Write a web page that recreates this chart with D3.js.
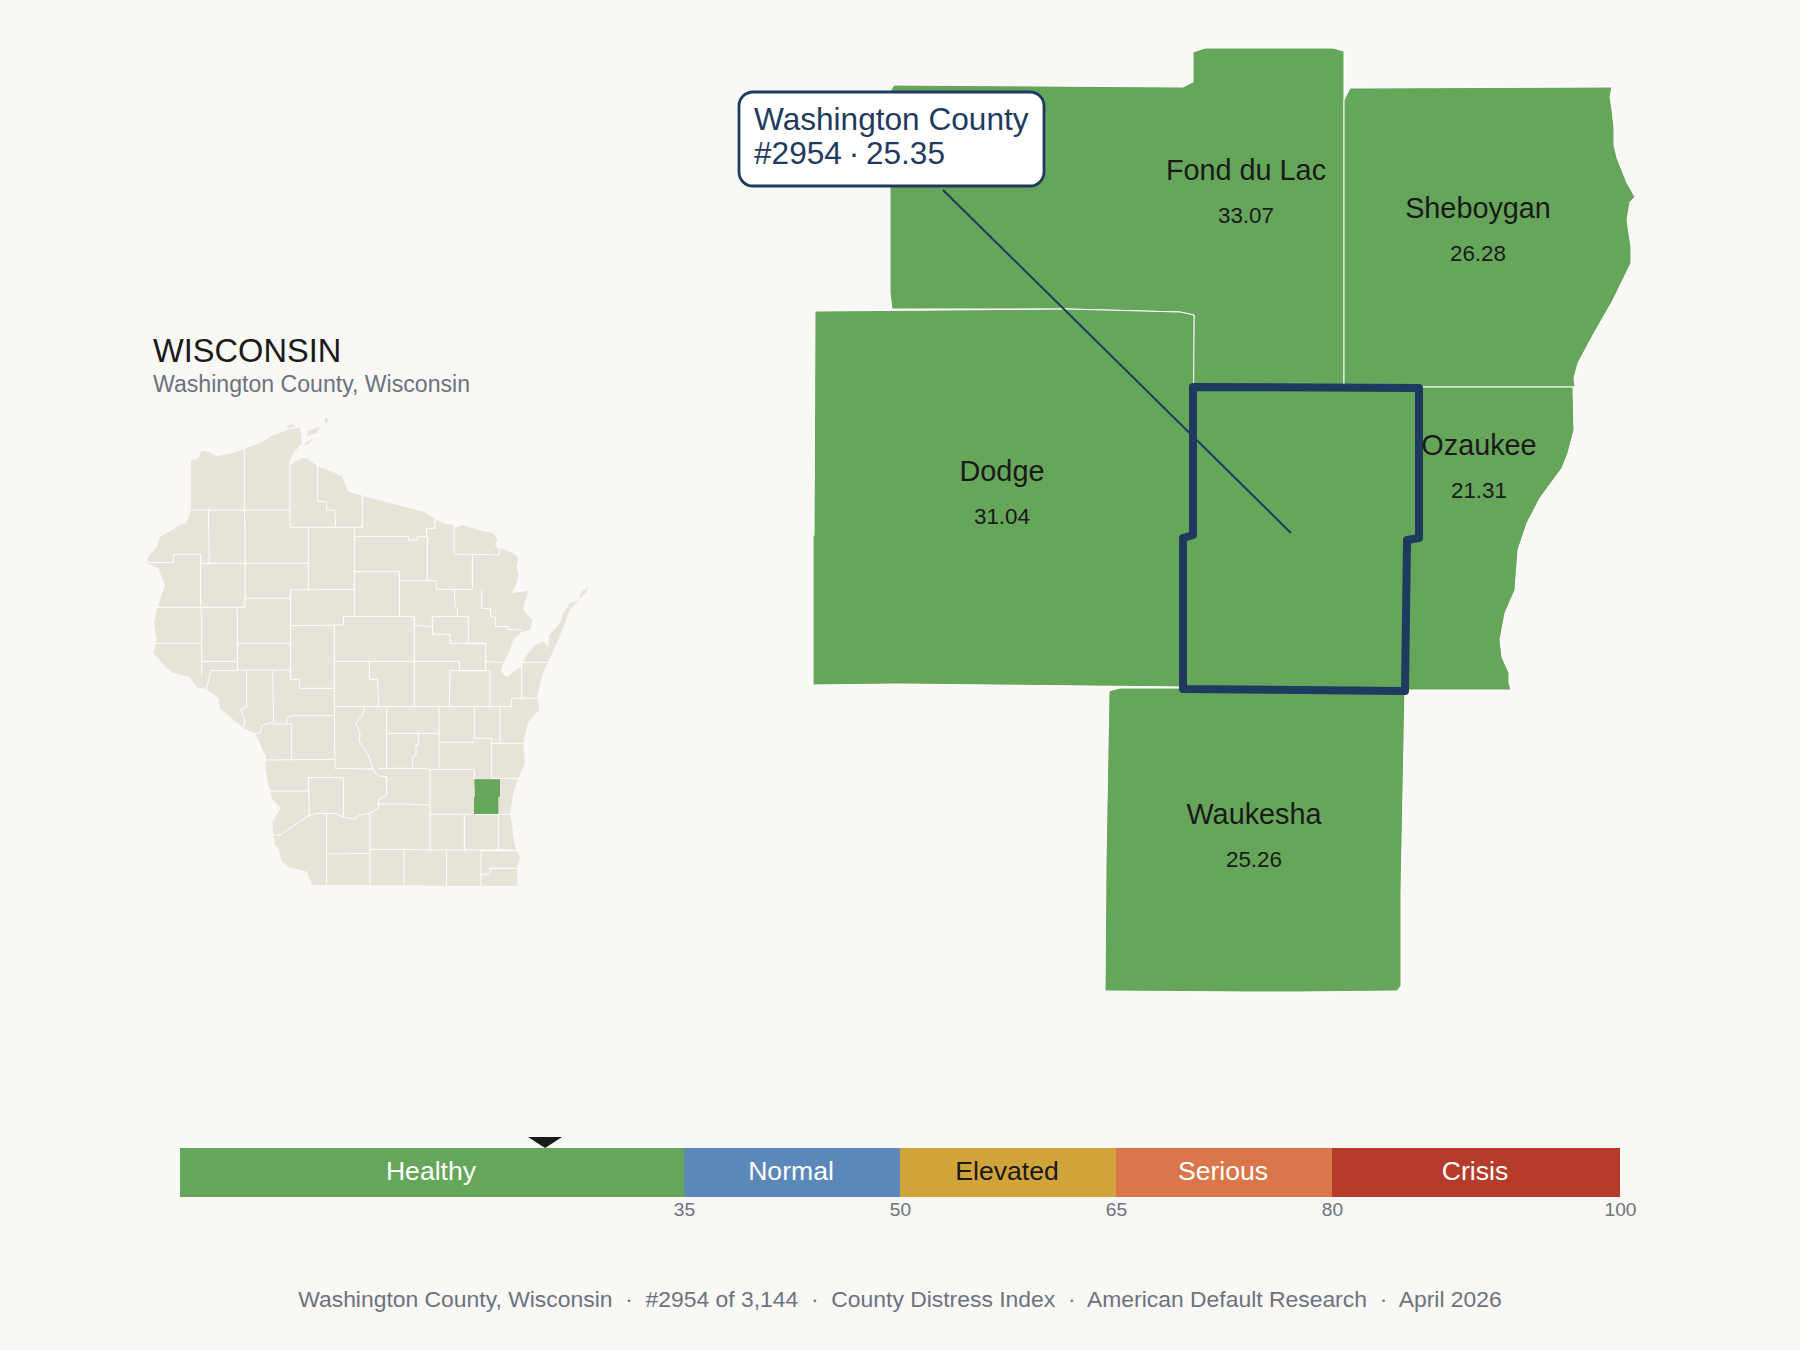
<!DOCTYPE html>
<html>
<head>
<meta charset="utf-8">
<title>Washington County, Wisconsin</title>
<script src="https://cdn.jsdelivr.net/npm/d3@7"></script>
<style>
    html, body { margin: 0; padding: 0; background: #faf8f5; }
    svg { display: block; }
    text { font-family: "Liberation Sans", Arial, sans-serif; }
</style>
</head>
<body>
<svg id="chart" width="1800" height="1350"></svg>
<script>
// Index values
const countyName = "Washington County";
const countyRank = 2954;
const countyScore = 25.35;
const stateName = "WISCONSIN";
const subtitle = "Washington County, Wisconsin";
const footerParts = ["Washington County, Wisconsin", "#2954 of 3,144", "County Distress Index", "American Default Research", "April 2026"];

const neighborNames = ["Fond du Lac", "Sheboygan", "Dodge", "Ozaukee", "Waukesha"];
const neighborValues = [33.07, 26.28, 31.04, 21.31, 25.26];

// Severity bands
const bandNames = ["Healthy", "Normal", "Elevated", "Serious", "Crisis"];
const bandStarts = [0, 35, 50, 65, 80];
const bandEnds = [35, 50, 65, 80, 100];
const bandColors = ["#66a65a", "#5b88b8", "#d1a33b", "#d9774a", "#b53c2a"];
const bandTextColors = ["#ffffff", "#ffffff", "#1a1a1a", "#ffffff", "#ffffff"];
const bandTicks = [35, 50, 65, 80, 100];

// Neighbour county outlines (detail map units)
const fondDuLacRing = [[94,45],[383,47],[393,42],[393,12],[405,8],[533,8],[544,11],[544,347],[393,347],[394,275],[380,272],[267,269],[92,269],[90,253],[90,150],[91,50]];
const sheboyganRing = [[550,48],[812,47],[810,57],[812,70],[814,87],[814,105],[817,118],[827,143],[835,157],[830,162],[827,180],[831,207],[831,223],[813,260],[793,295],[778,323],[774,338],[775,347],[544,347],[544,60]];
const dodgeRing = [[15,271],[267,269],[380,272],[394,275],[393,495],[383,498],[383,647],[98,644],[13,645],[13,497],[14,495]];
const ozaukeeRing = [[773,347],[774,390],[768,413],[762,428],[740,458],[727,483],[718,510],[715,550],[705,573],[700,600],[702,617],[709,633],[709,643],[711,650],[607,650],[605,500],[620,498],[620,347]];
const waukeshaRing = [[309,651],[320,648],[380,648],[605,650],[601,853],[601,946],[597,951],[500,952],[447,952],[305,951],[306,820]];
const washingtonRing = [[393,347],[619,348],[619,498],[607,500],[605,651],[383,649],[383,498],[393,495]];
const neighborRings = [fondDuLacRing, sheboyganRing, dodgeRing, ozaukeeRing, waukeshaRing];

// State outline and county lines for the small map (state map units)
const stateOutline = [[183,420],[205,415],[215,392],[235,395],[260,408],[300,402],[343,387],[400,365],[420,350],[470,330],[510,322],[513,345],[515,370],[490,400],[478,425],[475,438],[515,415],[530,415],[565,440],[600,452],[635,468],[655,515],[700,528],[885,577],[915,597],[945,612],[970,615],[975,625],[1000,615],[1045,630],[1090,640],[1102,660],[1095,675],[1108,690],[1115,685],[1150,700],[1165,715],[1160,740],[1165,765],[1160,790],[1145,820],[1195,812],[1180,860],[1180,870],[1207,900],[1200,930],[1175,935],[1150,960],[1135,1000],[1120,1030],[1112,1055],[1130,1072],[1165,1045],[1172,1040],[1190,1005],[1215,975],[1240,965],[1255,980],[1258,945],[1290,910],[1300,880],[1320,850],[1345,840],[1355,815],[1375,800],[1370,815],[1345,840],[1320,870],[1300,920],[1280,970],[1255,1025],[1235,1070],[1222,1130],[1228,1170],[1195,1205],[1180,1265],[1185,1330],[1165,1375],[1150,1420],[1140,1480],[1147,1520],[1150,1550],[1158,1590],[1170,1610],[1162,1640],[1162,1698],[950,1698],[823,1696],[590,1695],[547,1695],[530,1655],[475,1640],[455,1625],[445,1585],[435,1575],[430,1545],[427,1505],[452,1465],[425,1435],[422,1412],[415,1395],[407,1350],[408,1310],[375,1240],[340,1225],[300,1190],[270,1165],[265,1135],[230,1108],[200,1102],[180,1072],[130,1058],[110,1045],[70,1000],[80,960],[72,905],[82,865],[105,795],[85,745],[52,730],[55,710],[80,680],[90,650],[125,630],[150,615],[170,610],[183,568]];
const stateIslands = [
    [[590,290],[596,300],[588,312],[582,303]],
    [[535,332],[570,322],[560,340],[530,348]],
    [[520,372],[550,355],[535,375]],
    [[470,318],[490,312],[495,320],[475,325]]
];
const countyLines = [
    [[343,387],[343,570],[345,625],[345,862]],
    [[183,570],[480,570]],
    [[480,435],[480,622],[697,622],[697,528]],
    [[563,438],[563,545],[590,545],[590,570],[615,570],[617,622]],
    [[235,570],[238,730]],
    [[55,728],[130,728],[130,703],[212,703],[212,862]],
    [[212,730],[535,730]],
    [[535,622],[535,810]],
    [[673,622],[673,890]],
    [[673,650],[835,650],[835,660],[862,660],[862,650],[890,650],[890,625],[915,625],[915,597]],
    [[892,650],[892,782],[810,782]],
    [[892,782],[918,782],[920,808],[1027,808],[1027,705]],
    [[972,612],[972,703],[1027,703],[1108,705],[1108,690]],
    [[673,755],[808,755],[808,890]],
    [[973,810],[975,860],[982,865],[982,888]],
    [[1055,808],[1055,865],[1082,865],[1082,890],[1097,892],[1097,920],[1135,920],[1135,928],[1175,930]],
    [[345,835],[480,835]],
    [[480,810],[673,808]],
    [[78,862],[345,862]],
    [[320,862],[322,890],[322,1050]],
    [[212,862],[215,890],[215,1068]],
    [[75,970],[215,970]],
    [[215,1024],[322,1024]],
    [[322,970],[482,970]],
    [[322,1050],[482,1050]],
    [[482,810],[482,1078],[508,1078],[508,1105],[612,1105]],
    [[482,917],[640,915],[640,890],[853,890],[853,915],[905,920]],
    [[853,890],[853,1160]],
    [[613,915],[613,1160],[615,1345]],
    [[613,1024],[988,1024],[988,1052],[1067,1052],[1067,970],[1015,970],[1015,890],[907,890],[907,943],[960,943],[960,970],[1067,970]],
    [[1067,1025],[1120,1027]],
    [[1175,1027],[1255,1027]],
    [[1175,1027],[1175,1135]],
    [[960,1052],[1080,1052],[1080,1160]],
    [[960,1052],[958,1160]],
    [[718,1024],[718,1078],[743,1078],[745,1160]],
    [[613,1160],[1145,1160],[1145,1135],[1222,1135]],
    [[242,1052],[322,1052]],
    [[242,1052],[235,1085],[228,1108]],
    [[350,1052],[350,1160],[332,1170],[345,1200],[340,1225]],
    [[428,1052],[430,1160],[431,1210],[420,1208],[395,1218],[390,1240],[375,1240]],
    [[431,1212],[485,1212],[485,1320]],
    [[470,1212],[470,1195],[485,1187],[613,1187]],
    [[408,1320],[613,1318]],
    [[705,1162],[695,1190],[678,1210],[690,1240],[688,1265],[715,1305],[730,1350],[745,1368],[770,1370],[770,1425],[745,1440],[745,1465],[718,1480],[690,1485],[672,1497],[640,1492],[615,1480],[560,1480],[530,1490],[480,1525],[450,1545],[430,1545]],
    [[770,1160],[770,1345]],
    [[772,1240],[927,1240]],
    [[927,1160],[927,1345]],
    [[865,1240],[865,1275],[858,1275],[858,1305],[848,1310],[848,1345]],
    [[615,1345],[730,1347]],
    [[745,1345],[875,1345],[900,1348],[1033,1348],[1033,1378]],
    [[1033,1160],[1033,1255],[1085,1255],[1085,1375]],
    [[927,1267],[1033,1267]],
    [[1085,1270],[1180,1270]],
    [[1110,1160],[1110,1270]],
    [[900,1348],[900,1590]],
    [[1085,1375],[1165,1375]],
    [[535,1373],[640,1373],[640,1492]],
    [[535,1373],[538,1490]],
    [[420,1413],[535,1413]],
    [[720,1480],[720,1695]],
    [[745,1452],[820,1452],[900,1455]],
    [[590,1480],[590,1695]],
    [[590,1602],[718,1600]],
    [[718,1588],[820,1588],[900,1590],[1150,1590]],
    [[900,1483],[1143,1483]],
    [[1003,1483],[1003,1590]],
    [[1105,1483],[1105,1590]],
    [[822,1588],[822,1697]],
    [[950,1592],[950,1698]],
    [[1053,1592],[1053,1698]],
    [[1053,1663],[1080,1663],[1080,1645],[1160,1645]],
    [[1053,1592],[1170,1592]]
];
const stateHighlight = [[1033,1378],[1110,1378],[1110,1430],[1105,1430],[1105,1482],[1032,1482],[1032,1430],[1035,1430]];

// Colours
const background = "#faf8f5";
const stateFill = "#e8e3d9";
const navy = "#1f3a5f";
const ink = "#1a1a1a";
const gray = "#6b7280";
const healthyGreen = bandColors[0];

// geoPath expects rings to repeat their first point
const closed = ring => ring.concat([ring[0]]);

const svg = d3.select("#chart");
svg.append("rect").attr("width", 1800).attr("height", 1350).attr("fill", background);

// Small state map
const statePath = d3.geoPath(d3.geoIdentity().scale(1 / 3).translate([130, 320]));
const stateMap = svg.append("g");

stateMap.append("path")
    .datum({ type: "MultiPolygon", coordinates: [stateOutline].concat(stateIslands).map(r => [closed(r)]) })
    .attr("d", statePath)
    .attr("fill", stateFill);

stateMap.append("path")
    .datum({ type: "MultiLineString", coordinates: countyLines })
    .attr("d", statePath)
    .attr("fill", "none")
    .attr("stroke", "#ffffff")
    .attr("stroke-width", 1);

stateMap.append("path")
    .datum({ type: "Polygon", coordinates: [closed(stateHighlight)] })
    .attr("d", statePath)
    .attr("fill", healthyGreen);

svg.append("text").attr("x", 153).attr("y", 362)
    .attr("font-size", 32.6).attr("fill", ink).text(stateName);
svg.append("text").attr("x", 153).attr("y", 392)
    .attr("font-size", 23.1).attr("fill", gray).text(subtitle);

// Detail map
const detailProjection = d3.geoIdentity().translate([800, 40]);
const detailPath = d3.geoPath(detailProjection);
const detail = svg.append("g");

detail.selectAll("path.neighbor")
    .data(neighborRings)
    .enter()
    .append("path")
    .attr("class", "neighbor")
    .attr("d", d => detailPath({ type: "Polygon", coordinates: [closed(d)] }))
    .attr("fill", healthyGreen)
    .attr("stroke", "#ffffff")
    .attr("stroke-width", 1)
    .attr("stroke-linejoin", "round");

detail.append("path")
    .attr("d", detailPath({ type: "Polygon", coordinates: [closed(washingtonRing)] }))
    .attr("fill", healthyGreen)
    .attr("stroke", navy)
    .attr("stroke-width", 8)
    .attr("stroke-linejoin", "round");

// Neighbour labels
const labelAnchors = [[446,161.5],[678,200],[202,463],[679,436.5],[454,806]];
neighborNames.forEach((name, i) => {
    const [x, y] = detailProjection(labelAnchors[i]);
    detail.append("text").attr("x", x).attr("y", y - 22)
        .attr("text-anchor", "middle").attr("font-size", 28.8).attr("fill", ink).text(name);
    detail.append("text").attr("x", x).attr("y", y + 21)
        .attr("text-anchor", "middle").attr("font-size", 22.4).attr("fill", ink)
        .text(neighborValues[i].toFixed(2));
});

// Callout
const leaderStart = detailProjection([143, 150]);
const leaderEnd = detailProjection([491, 493]);
svg.append("line")
    .attr("x1", leaderStart[0]).attr("y1", leaderStart[1])
    .attr("x2", leaderEnd[0]).attr("y2", leaderEnd[1])
    .attr("stroke", navy).attr("stroke-width", 2);

svg.append("rect")
    .attr("x", 739).attr("y", 92).attr("width", 305).attr("height", 94).attr("rx", 14)
    .attr("fill", "#ffffff").attr("stroke", navy).attr("stroke-width", 2.8);
svg.append("text").attr("x", 754).attr("y", 130)
    .attr("font-size", 31.6).attr("fill", navy).text(countyName);
svg.append("text").attr("x", 754).attr("y", 164)
    .attr("font-size", 31.6).attr("fill", navy)
    .attr("word-spacing", -2)
    .text(`#${countyRank} · ${countyScore}`);

// Severity bar
const barX = d3.scaleLinear().domain([0, 100]).range([180, 1620]);
const barTop = 1148, barHeight = 49;

svg.selectAll("rect.band")
    .data(bandNames)
    .enter()
    .append("rect")
    .attr("class", "band")
    .attr("x", (d, i) => barX(bandStarts[i]))
    .attr("y", barTop)
    .attr("width", (d, i) => barX(bandEnds[i]) - barX(bandStarts[i]))
    .attr("height", barHeight)
    .attr("fill", (d, i) => bandColors[i]);

svg.selectAll("text.band")
    .data(bandNames)
    .enter()
    .append("text")
    .attr("class", "band")
    .attr("x", (d, i) => barX((bandStarts[i] + bandEnds[i]) / 2) - 1)
    .attr("y", 1180)
    .attr("text-anchor", "middle")
    .attr("font-size", 26.6)
    .attr("fill", (d, i) => bandTextColors[i])
    .text(d => d);

const barAxis = d3.axisBottom(barX).tickValues(bandTicks).tickSize(0).tickPadding(0);
const axisG = svg.append("g")
    .attr("transform", `translate(0,${barTop + barHeight})`)
    .call(barAxis);
axisG.select(".domain").remove();
axisG.selectAll("text")
    .attr("y", 19)
    .attr("dy", null)
    .attr("font-size", 19.2)
    .attr("font-family", "Liberation Sans, Arial, sans-serif")
    .attr("fill", gray);

// Marker above the bar
const markerX = barX(countyScore);
svg.append("path")
    .attr("d", d3.line()([[markerX - 17, barTop - 11], [markerX + 17, barTop - 11], [markerX, barTop]]) + "Z")
    .attr("fill", ink);

// Footer
svg.append("text")
    .attr("x", 900).attr("y", 1307)
    .attr("text-anchor", "middle")
    .attr("font-size", 22.9)
    .attr("fill", gray)
    .style("white-space", "pre")
    .text(footerParts.join("  ·  "));
</script>
</body>
</html>
